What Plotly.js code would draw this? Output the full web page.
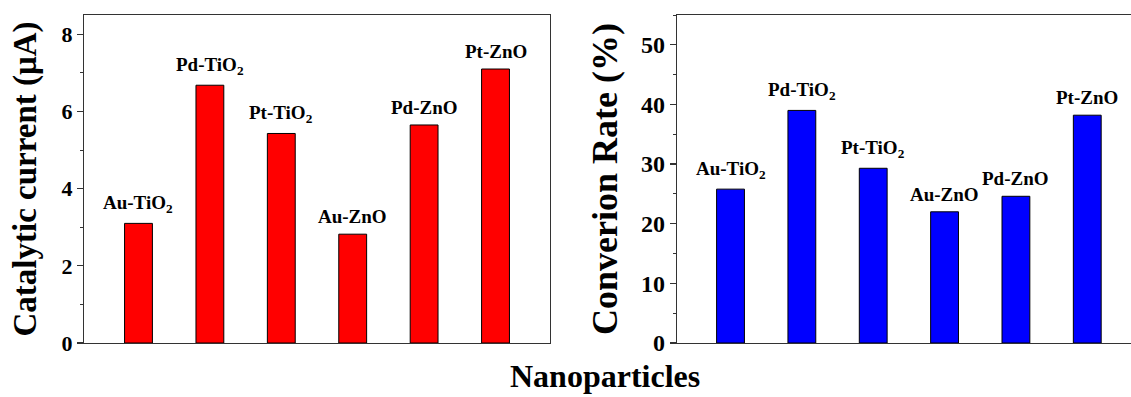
<!DOCTYPE html>
<html><head><meta charset="utf-8">
<script src="https://cdn.plot.ly/plotly-3.0.1.min.js"></script>
<style>html,body{margin:0;padding:0;background:#fff}#chart{width:1131px;height:397px}</style>
</head><body><div id="chart"></div>
<script>
const categories = ["Au-TiO<sub>2</sub>", "Pd-TiO<sub>2</sub>", "Pt-TiO<sub>2</sub>", "Au-ZnO", "Pd-ZnO", "Pt-ZnO"];
const positions = [1, 2, 3, 4, 5, 6];
const catalyticCurrent = [3.10, 6.68, 5.43, 2.82, 5.65, 7.10];
const conversionRate = [25.8, 39.0, 29.3, 22.0, 24.6, 38.2];
const leftTicks = [0, 2, 4, 6, 8];
const rightTicks = [0, 10, 20, 30, 40, 50];

const FAM = "Liberation Serif, Times New Roman, serif";
const W = 1131;
const lineCol = "#333";

const barCommon = {type: "bar", width: 0.39, hoverinfo: "skip"};

const traces = [
  Object.assign({}, barCommon, {x: positions, y: catalyticCurrent,
    marker: {color: "#ff0000", line: {color: "#000", width: 1}}, xaxis: "x", yaxis: "y"}),
  Object.assign({}, barCommon, {x: positions, y: conversionRate,
    marker: {color: "#0000ff", line: {color: "#000", width: 1}}, xaxis: "x2", yaxis: "y2"})
];

const yCommon = {
  showgrid: false, zeroline: false, showline: true, linecolor: lineCol, linewidth: 1.2,
  ticks: "outside", ticklen: 6, tickwidth: 1.2, tickcolor: lineCol,
  minor: {ticks: "outside", ticklen: 3, tickwidth: 1, tickcolor: lineCol},
  automargin: false
};
const xCommon = {
  showgrid: false, zeroline: false, showline: true, linecolor: lineCol, linewidth: 1.2,
  ticks: "", showticklabels: false, automargin: false, fixedrange: true
};

function labelAnnots(vals, xref, yref) {
  return categories.map((c, i) => ({
    text: c, x: positions[i], y: vals[i], xref: xref, yref: yref,
    xanchor: "center", yanchor: "bottom", yshift: 5, showarrow: false,
    font: {family: FAM, size: 19, color: "#000", weight: "bold"}
  }));
}

const layout = {
  width: W, height: 397,
  margin: {l: 0, r: 0, t: 15, b: 54},
  paper_bgcolor: "#fff", plot_bgcolor: "#fff",
  showlegend: false, bargap: 0,
  xaxis: Object.assign({}, xCommon, {domain: [84 / W, 550 / W], range: [0.237, 6.763], mirror: true, anchor: "y"}),
  yaxis: Object.assign({}, yCommon, {domain: [0, 1], range: [0, 8.5], tickvals: leftTicks, mirror: true,
    tickfont: {family: FAM, size: 22, color: "#000", weight: "bold"},
    minor: Object.assign({}, yCommon.minor, {dtick: 1, tick0: 0}),
    anchor: "x",
    title: {text: "Catalytic current (μA)", standoff: 14,
      font: {family: FAM, size: 33, color: "#000", weight: "bold"}}}),
  xaxis2: Object.assign({}, xCommon, {domain: [677 / W, 1], range: [0.25, 6.613], mirror: true, anchor: "y2"}),
  yaxis2: Object.assign({}, yCommon, {domain: [0, 1], range: [0, 55], tickvals: rightTicks, mirror: false,
    tickfont: {family: FAM, size: 24, color: "#000", weight: "bold"},
    minor: Object.assign({}, yCommon.minor, {dtick: 5, tick0: 0}),
    anchor: "x2",
    title: {text: "Converion Rate (%)", standoff: 12,
      font: {family: FAM, size: 36, color: "#000", weight: "bold"}}}),
  annotations: labelAnnots(catalyticCurrent, "x", "y").concat(labelAnnots(conversionRate, "x2", "y2")).concat([{
    text: "Nanoparticles", xref: "paper", yref: "paper", x: 605 / W, y: 0,
    yshift: -53, xanchor: "center", yanchor: "bottom", showarrow: false,
    font: {family: FAM, size: 32, color: "#000", weight: "bold"}
  }])
};

Plotly.newPlot("chart", traces, layout, {staticPlot: true, displayModeBar: false});
</script>
</body></html>
